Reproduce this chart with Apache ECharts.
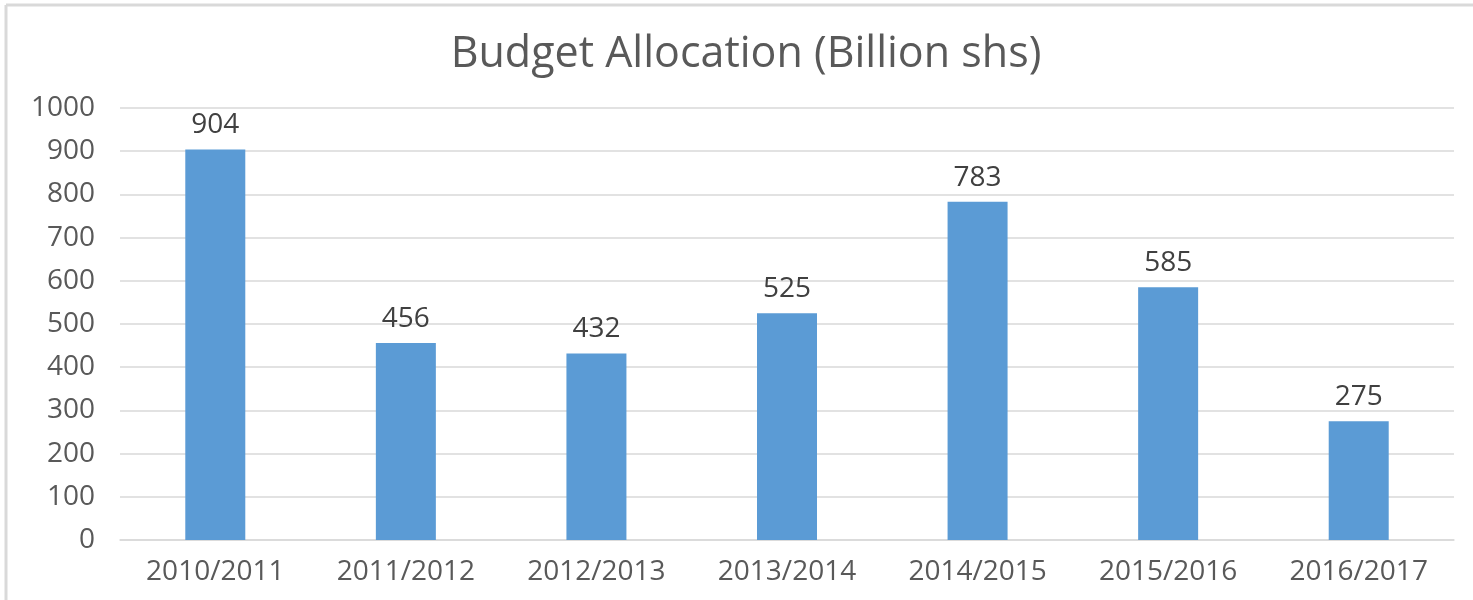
<!DOCTYPE html>
<html><head><meta charset="utf-8">
<script src="https://cdn.jsdelivr.net/npm/echarts@6/dist/echarts.min.js"></script>
<style>html,body{margin:0;padding:0;background:#fff}#c{width:1473px;height:600px}</style>
</head><body><div id="c"></div>
<script>
var categories = ['2010/2011','2011/2012','2012/2013','2013/2014','2014/2015','2015/2016','2016/2017'];
var values = [904, 456, 432, 525, 783, 585, 275];
var titleText = 'Budget Allocation (Billion shs)';

var chart = echarts.init(document.getElementById('c'));
var font = '"Open Sans", sans-serif';
chart.setOption({
  animation: false,
  backgroundColor: '#fff',
  title: {
    text: titleText, left: 741, top: 28, textAlign: 'center',
    textStyle: { fontFamily: font, fontSize: 43, fontWeight: 'normal', color: '#595959' }
  },
  graphic: [
    { type: 'line', shape: { x1: 6, y1: 5, x2: 1473, y2: 5 }, style: { stroke: '#d9d9d9', lineWidth: 3 } },
    { type: 'line', shape: { x1: 6, y1: 5, x2: 6, y2: 600 }, style: { stroke: '#d9d9d9', lineWidth: 3 } }
  ],
  grid: { left: 120, right: 19, top: 108, bottom: 60, containLabel: false },
  xAxis: {
    type: 'category', data: categories,
    axisLine: { lineStyle: { color: '#d9d9d9', width: 1.5 } },
    axisTick: { show: false },
    axisLabel: { fontFamily: font, fontSize: 28, color: '#595959', margin: 18 }
  },
  yAxis: {
    type: 'value', min: 0, max: 1000, interval: 100,
    axisLine: { show: false }, axisTick: { show: false },
    splitLine: { lineStyle: { color: '#d9d9d9', width: 1.5 } },
    axisLabel: { fontFamily: font, fontSize: 28, color: '#595959', margin: 25, formatter: function (v) { return String(v); } }
  },
  series: [{
    type: 'bar', data: values, barWidth: 60,
    itemStyle: { color: '#5b9bd5' },
    label: { show: true, position: 'top', distance: 10, fontFamily: font, fontSize: 28, color: '#404040' }
  }]
});
</script></body></html>
